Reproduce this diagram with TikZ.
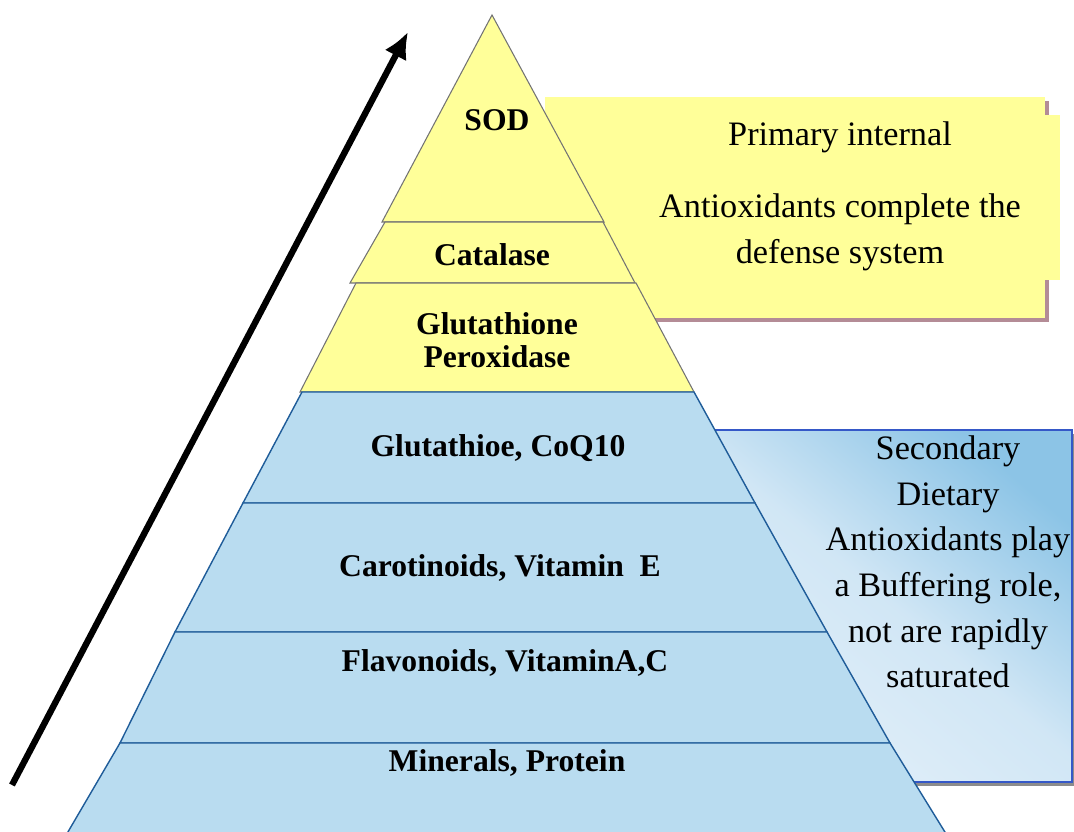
\documentclass[tikz,border=0pt]{standalone}
\usepackage{fontspec}
\setmainfont{Liberation Serif}
\usetikzlibrary{arrows.meta}
\definecolor{pyryellow}{HTML}{FFFF99}
\definecolor{pyrblue}{HTML}{B9DCF0}
\definecolor{pyredge}{HTML}{1F5C99}
\definecolor{boxedge}{HTML}{3558C8}
\definecolor{boxshadow}{HTML}{B48C96}
\definecolor{boxlight}{HTML}{E2EFF9}
\definecolor{boxdark}{HTML}{8CC4E6}

\begin{document}
\begin{tikzpicture}[
    yellowlayer/.style={fill=pyryellow,draw=black!55,line width=0.6pt},
    bluelayer/.style={fill=pyrblue,draw=pyredge,line width=0.8pt},
    layerlabel/.style={font=\fontsize{18}{19}\selectfont\bfseries,align=center},
    boxtext/.style={font=\fontsize{19.5}{26}\selectfont,align=center}]
          \useasboundingbox (0,0) rectangle (21.48,16.64);
          % primary box (behind pyramid)
          \fill[boxshadow] (10.98,14.62) rectangle (20.98,10.20);
          \fill[pyryellow] (10.90,14.70) rectangle (20.90,10.28);
          \fill[pyryellow] (20.90,14.34) rectangle (21.20,11.04);
          % secondary box (behind pyramid)
          \fill[black!45] (14.38,7.96) rectangle (21.52,0.92);
          \shade[bottom color=boxlight,top color=boxdark,middle color=boxlight!80!boxdark,shading angle=-40]
                 (14.30,8.04) rectangle (21.44,1.00);
          \draw[boxedge,line width=1pt] (14.30,8.04) rectangle (21.44,1.00);
          % arrow
          \coordinate (tail) at (0.24,0.94);
          \coordinate (head) at (8.16,16.00);
          \draw[line width=3.6pt,-{Latex[length=15pt,width=14pt]}] (tail) -- (head);
          % pyramid layers
          \filldraw[yellowlayer] (9.84,16.34) -- (12.08,12.20) -- (7.64,12.20) -- cycle;              % SOD
          \filldraw[yellowlayer] (7.70,12.20) -- (12.06,12.20) -- (12.70,10.98) -- (7.00,10.98) -- cycle; % Catalase
          \filldraw[yellowlayer] (7.12,10.98) -- (12.72,10.98) -- (13.88,8.80) -- (6.00,8.80) -- cycle;  % Peroxidase
          \filldraw[bluelayer] (6.04,8.80) -- (13.88,8.80) -- (15.10,6.58) -- (4.86,6.58) -- cycle;     % CoQ10
          \filldraw[bluelayer] (4.86,6.58) -- (15.10,6.58) -- (16.54,4.00) -- (3.50,4.00) -- cycle;     % Vitamin E
          \filldraw[bluelayer] (3.50,4.00) -- (16.54,4.00) -- (17.80,1.78) -- (2.40,1.78) -- cycle;     % Vitamin A,C
          \filldraw[bluelayer] (2.40,1.78) -- (17.80,1.78) -- (18.96,-0.10) -- (1.30,-0.10) -- cycle;   % Minerals
          % layer labels
          \node[layerlabel] (sod)  at (9.94,14.24) {SOD};
          \node[layerlabel] (cat)  at (9.84,11.54) {Catalase};
          \node[layerlabel] (gpx)  at (9.94,9.84)  {Glutathione\\Peroxidase};
          \node[layerlabel] (coq)  at (9.96,7.68)  {Glutathioe, CoQ10};
          \node[layerlabel] (vite) at (10.00,5.28) {Carotinoids, Vitamin~ E};
          \node[layerlabel] (vitac) at (10.10,3.38) {Flavonoids, VitaminA,C};
          \node[layerlabel] (mine) at (10.14,1.38) {Minerals, Protein};
          % box texts
          \node[boxtext] (prim)  at (16.80,13.90) {Primary internal};
          \node[boxtext] (prim2) at (16.80,12.00) {Antioxidants complete the\\defense system};
          \node[boxtext] (sec)   at (18.96,5.40)  {Secondary\\Dietary\\Antioxidants play\\a Buffering role,\\not are rapidly\\saturated};
\end{tikzpicture}
\end{document}
